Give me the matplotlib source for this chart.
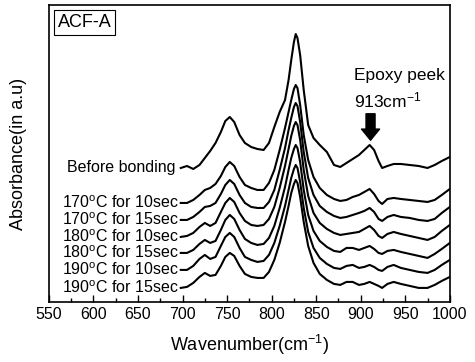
import matplotlib
matplotlib.use("Agg")
import matplotlib.pyplot as plt
from matplotlib.ticker import MultipleLocator

plt.rcParams['font.family'] = ['Liberation Sans', 'DejaVu Sans']
plt.rcParams['mathtext.fontset'] = 'custom'
plt.rcParams['mathtext.rm'] = 'Liberation Sans'
plt.rcParams['mathtext.it'] = 'Liberation Sans'

# wavenumber grid (cm-1) and absorbance (arbitrary units, stacked as in the figure)
wavenumber = [698, 705, 712, 719, 725, 731, 737, 743, 748, 753,
              758, 764, 770, 777, 784, 791, 797, 803, 809, 815,
              819, 822, 825, 827, 829, 832, 836, 841, 847, 854,
              862, 870, 877, 884, 891, 898, 904, 910, 915, 920,
              924, 930, 937, 945, 955, 965, 975, 983, 991, 1000]

before_bonding = [132, 134, 131, 135, 142, 149, 157, 168, 179, 183,
                  178, 165, 157, 153, 151, 150, 157, 173, 188, 200,
                  220, 240, 258, 266, 262, 245, 210, 175, 162, 155,
                  148, 135, 133, 137, 141, 145, 150, 155, 150, 139,
                  132, 134, 136, 136, 135, 134, 132, 135, 139, 143]
c170_10 = [97, 97, 100, 105, 110, 112, 116, 124, 133, 138,
           134, 123, 115, 112, 110, 110, 117, 130, 150, 172,
           188, 200, 211, 215, 212, 195, 165, 140, 123, 112,
           105, 101, 99, 100, 103, 105, 108, 111, 106, 99,
           96, 101, 102, 101, 100, 99, 98, 100, 105, 111]
c170_15 = [80, 80, 83, 88, 93, 94, 97, 106, 115, 120,
           116, 105, 97, 93, 92, 92, 98, 110, 130, 152,
           170, 182, 193, 197, 194, 178, 148, 122, 105, 94,
           88, 84, 82, 83, 85, 87, 89, 92, 88, 81,
           79, 83, 85, 83, 82, 80, 79, 81, 87, 93]
c180_10 = [63, 64, 67, 73, 77, 74, 77, 88, 97, 102,
           98, 87, 79, 75, 74, 75, 81, 93, 112, 134,
           151, 164, 174, 178, 175, 160, 130, 104, 87, 77,
           71, 67, 65, 66, 67, 68, 71, 74, 70, 64,
           62, 66, 68, 66, 64, 62, 60, 63, 69, 75]
c180_15 = [47, 47, 50, 56, 60, 57, 59, 70, 80, 85,
           81, 70, 61, 57, 55, 56, 62, 74, 92, 113,
           130, 142, 151, 155, 152, 138, 110, 85, 69, 59,
           53, 49, 48, 52, 52, 50, 52, 54, 51, 47,
           46, 49, 50, 48, 46, 44, 42, 46, 51, 57]
c190_10 = [30, 30, 34, 41, 45, 41, 43, 54, 63, 67,
           63, 52, 43, 40, 38, 39, 45, 57, 74, 94,
           110, 122, 131, 135, 132, 118, 92, 68, 52, 42,
           36, 32, 31, 34, 35, 32, 33, 35, 33, 30,
           29, 33, 35, 32, 30, 28, 27, 30, 35, 40]
c190_15 = [12, 13, 17, 23, 27, 24, 25, 34, 43, 47,
           44, 34, 26, 23, 22, 22, 28, 40, 57, 78,
           94, 107, 116, 120, 117, 103, 78, 54, 37, 26,
           20, 16, 15, 18, 18, 15, 16, 18, 16, 14,
           12, 16, 18, 16, 14, 12, 12, 15, 19, 23]

series = [before_bonding, c170_10, c170_15, c180_10, c180_15, c190_10, c190_15]
labels = ['Before bonding',
          '170$^{\\rm o}$C for 10sec', '170$^{\\rm o}$C for 15sec',
          '180$^{\\rm o}$C for 10sec', '180$^{\\rm o}$C for 15sec',
          '190$^{\\rm o}$C for 10sec', '190$^{\\rm o}$C for 15sec']

fig = plt.figure(figsize=(4.75, 3.62), dpi=100)
ax = fig.add_axes([0.103, 0.166, 0.844, 0.820])

for s, lab in zip(series, labels):
    ax.plot(wavenumber, s, color='black', lw=1.5, solid_joinstyle='round')
    xlab = 692 if lab == 'Before bonding' else 696
    ax.text(xlab, s[0], lab, ha='right', va='center', fontsize=11.5)

ax.set_xlim(550, 1000)
ax.set_ylim(-2, 295)
ax.xaxis.set_major_locator(MultipleLocator(50))
ax.xaxis.set_minor_locator(MultipleLocator(25))
ax.tick_params(axis='x', which='major', direction='in', length=5, width=1, labelsize=11.5, top=False)
ax.tick_params(axis='x', which='minor', direction='in', length=3, width=1, top=False)
ax.set_yticks([])
for sp in ax.spines.values():
    sp.set_linewidth(1.2)

ax.set_xlabel('Wavenumber(cm$^{-1}$)', fontsize=13, labelpad=8)
ax.set_ylabel('Absorbance(in a.u)', fontsize=13, labelpad=16)

ax.text(0.022, 0.97, 'ACF-A', transform=ax.transAxes, ha='left', va='top', fontsize=13,
        bbox=dict(boxstyle='square,pad=0.2', fc='white', ec='black', lw=0.8))

ax.text(893, 225, 'Epoxy peek', ha='left', va='center', fontsize=12.5)
ax.text(893, 200, '913cm$^{-1}$', ha='left', va='center', fontsize=12.5)
ax.annotate('', xy=(911, 157), xytext=(911, 189),
            arrowprops=dict(arrowstyle='simple,head_width=1.3,head_length=0.8,tail_width=0.65',
                            fc='black', ec='black', mutation_scale=10))

fig.savefig('out.png', dpi=100)
